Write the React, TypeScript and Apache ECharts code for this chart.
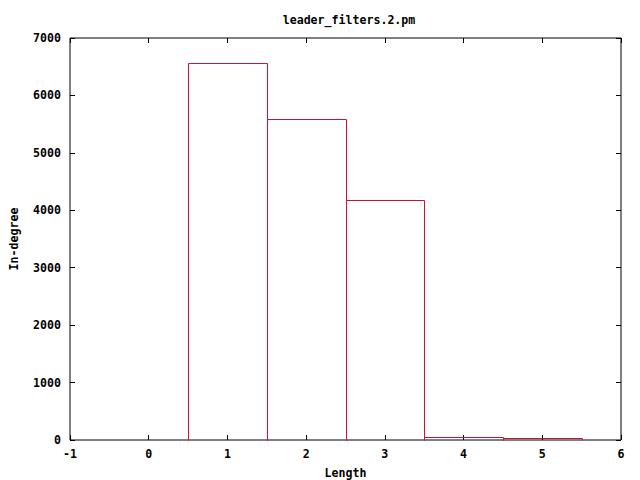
import React, { useEffect, useRef } from "react";
import * as echarts from "echarts";

const lengths = [1, 2, 3, 4, 5];
const inDegree = [6565, 5590, 4180, 55, 30];
const xTicks = [-1, 0, 1, 2, 3, 4, 5, 6];
const yTicks = [0, 1000, 2000, 3000, 4000, 5000, 6000, 7000];

const FONT = "DejaVu Sans Mono";

export default function App() {
  const ref = useRef<HTMLDivElement>(null);
  useEffect(() => {
    if (!ref.current) return;
    const chart = echarts.init(ref.current, null, { renderer: "svg" });
    const txt = { fontFamily: FONT, fontSize: 11.6, fontWeight: "bold" as const, color: "#000" };
    const axisCommon = {
      axisLine: { show: false, onZero: false },
      axisTick: { show: true, inside: true, length: 5, lineStyle: { color: "#000", width: 1 } },
      splitLine: { show: false },
    };
    chart.setOption({
      animation: false,
      backgroundColor: "#fff",
      title: {
        text: "leader_filters.2.pm",
        left: 344,
        top: 9,
        textAlign: "center",
        textStyle: { ...txt },
      },
      grid: {
        left: 70,
        right: 19,
        top: 38,
        bottom: 40,
        outerBoundsMode: "none",
        containLabel: false,
        show: true,
        borderColor: "#000",
        borderWidth: 1,
        backgroundColor: "transparent",
      },
      xAxis: [
        {
          type: "value",
          min: xTicks[0],
          max: xTicks[xTicks.length - 1],
          interval: 1,
          position: "bottom",
          name: "Length",
          nameLocation: "middle",
          nameGap: 27,
          nameTextStyle: { ...txt },
          axisLabel: { ...txt, margin: 8, formatter: (v: number) => String(v) },
          ...axisCommon,
        },
        {
          type: "value",
          min: xTicks[0],
          max: xTicks[xTicks.length - 1],
          interval: 1,
          position: "top",
          axisLabel: { show: false },
          ...axisCommon,
        },
      ],
      yAxis: [
        {
          type: "value",
          min: yTicks[0],
          max: yTicks[yTicks.length - 1],
          interval: 1000,
          position: "left",
          name: "In-degree",
          nameLocation: "middle",
          nameGap: 50,
          nameRotate: 90,
          nameTextStyle: { ...txt },
          axisLabel: { ...txt, margin: 9, formatter: (v: number) => String(v) },
          ...axisCommon,
        },
        {
          type: "value",
          min: yTicks[0],
          max: yTicks[yTicks.length - 1],
          interval: 1000,
          position: "right",
          axisLabel: { show: false },
          ...axisCommon,
        },
      ],
      series: [
        {
          type: "custom",
          xAxisIndex: 0,
          yAxisIndex: 0,
          z: 10,
          data: lengths.map((x, i) => [x, inDegree[i]]),
          renderItem: (params: any, api: any) => {
            const x = api.value(0);
            const y = api.value(1);
            const p1 = api.coord([x - 0.5, y]);
            const p2 = api.coord([x + 0.5, 0]);
            const x1 = Math.round(p1[0]) + 0.5;
            const x2 = Math.round(p2[0]) + 0.5;
            const y1 = Math.round(p1[1]) + 0.5;
            const y2 = Math.round(p2[1]) + 0.5;
            return {
              type: "polyline",
              shape: {
                points: [
                  [x1, y2],
                  [x1, y1],
                  [x2, y1],
                  [x2, y2],
                ],
              },
              style: { fill: null, stroke: "#d41030", lineWidth: 1 },
            };
          },
        },
      ],
    });
    return () => chart.dispose();
  }, []);
  return (
    <div
      ref={ref}
      style={{ position: "absolute", left: 0, top: 0, width: 640, height: 480 }}
    />
  );
}
